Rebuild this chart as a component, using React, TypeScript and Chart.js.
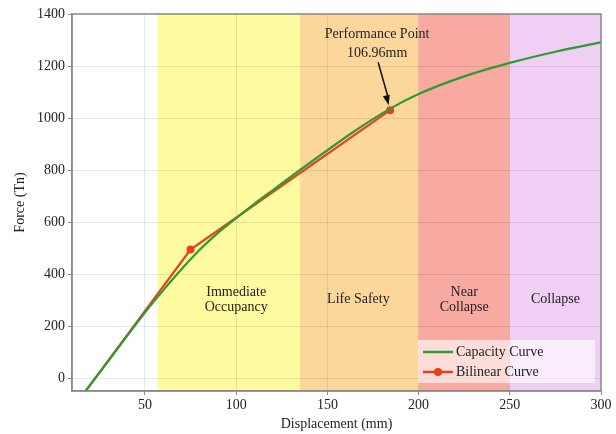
import React, { useEffect, useRef } from "react";
import { Chart, registerables } from "chart.js";

Chart.register(...registerables);

const xTicks = [50, 100, 150, 200, 250, 300];
const yTicks = [0, 200, 400, 600, 800, 1000, 1200, 1400];

const capacityX = [17.5, 30, 40, 50, 60, 70, 80, 90, 100, 110, 120, 135, 150, 165, 184, 200, 225, 250, 275, 300];
const capacityY = [-50, 66, 160, 252, 337, 418, 493, 558, 615, 670, 722, 800, 876, 950, 1034, 1092, 1160, 1212, 1255, 1291];

const bilinearX = [17.5, 75, 184.4];
const bilinearY = [-50, 494, 1030];

const zoneStart = [57, 135, 200, 250];
const zoneEnd = [135, 200, 250, 300];
const zoneNames = [["Immediate", "Occupancy"], ["Life Safety"], ["Near", "Collapse"], ["Collapse"]];
const zoneLabelX = [100, 167, 225, 275];
const zoneLabelY = 302;
const zoneColors = ["#fdfa9f", "#fbd79c", "#f8aaa2", "#f0cff5"];

const perfLabel = ["Performance Point", "106.96mm"];
const seriesNames = ["Capacity Curve", "Bilinear Curve"];

const GREEN = "#2f9a34";
const RED = "#e8401f";
const FONT = "'Liberation Serif', 'Times New Roman', serif";
const TEXT = "#222222";

export default function App() {
  const ref = useRef<HTMLCanvasElement | null>(null);

  useEffect(() => {
    if (!ref.current) return;

    const overlay = {
      id: "overlay",
      beforeDraw(chart: any) {
        const { ctx, chartArea, scales } = chart;
        const xs = scales.x;
        ctx.save();
        for (let i = 0; i < zoneStart.length; i++) {
          const x0 = xs.getPixelForValue(zoneStart[i]);
          const x1 = xs.getPixelForValue(zoneEnd[i]);
          ctx.fillStyle = zoneColors[i];
          ctx.fillRect(x0, chartArea.top, x1 - x0, chartArea.bottom - chartArea.top);
        }
        ctx.restore();
      },
      beforeDatasetsDraw(chart: any) {
        const { ctx, scales } = chart;
        ctx.save();
        ctx.font = `14px ${FONT}`;
        ctx.fillStyle = TEXT;
        ctx.textAlign = "center";
        ctx.textBaseline = "middle";
        const lh = 15;
        for (let i = 0; i < zoneNames.length; i++) {
          const cx = scales.x.getPixelForValue(zoneLabelX[i]);
          const cy = scales.y.getPixelForValue(zoneLabelY);
          const lines = zoneNames[i];
          lines.forEach((t, k) => {
            ctx.fillText(t, cx, cy + (k - (lines.length - 1) / 2) * lh);
          });
        }
        ctx.restore();
      },
      afterDraw(chart: any) {
        const { ctx, chartArea, scales } = chart;
        ctx.save();
        // frame
        ctx.strokeStyle = "#8a8a8a";
        ctx.lineWidth = 1.5;
        ctx.strokeRect(chartArea.left, chartArea.top, chartArea.right - chartArea.left, chartArea.bottom - chartArea.top);

        // performance annotation
        const px = scales.x.getPixelForValue(bilinearX[2]);
        const py = scales.y.getPixelForValue(bilinearY[2]);
        ctx.font = `14px ${FONT}`;
        ctx.fillStyle = TEXT;
        ctx.textAlign = "center";
        ctx.textBaseline = "middle";
        ctx.fillText(perfLabel[0], px - 13, py - 76);
        ctx.fillText(perfLabel[1], px - 13, py - 57);
        const ax0 = px - 12, ay0 = py - 48;
        const ax1 = px - 1.5, ay1 = py - 5;
        ctx.strokeStyle = "#111";
        ctx.lineWidth = 1.5;
        ctx.beginPath();
        ctx.moveTo(ax0, ay0);
        ctx.lineTo(ax1, ay1 - 6);
        ctx.stroke();
        const ang = Math.atan2(ay1 - ay0, ax1 - ax0);
        ctx.fillStyle = "#111";
        ctx.beginPath();
        ctx.moveTo(ax1, ay1);
        ctx.lineTo(ax1 - 10 * Math.cos(ang) + 3.5 * Math.sin(ang), ay1 - 10 * Math.sin(ang) - 3.5 * Math.cos(ang));
        ctx.lineTo(ax1 - 10 * Math.cos(ang) - 3.5 * Math.sin(ang), ay1 - 10 * Math.sin(ang) + 3.5 * Math.cos(ang));
        ctx.closePath();
        ctx.fill();

        // legend
        const lx = chartArea.right - 183, ly = chartArea.bottom - 51;
        ctx.fillStyle = "rgba(255,255,255,0.6)";
        ctx.fillRect(lx, ly, 177, 43);
        const rows = [
          { color: GREEN, dot: false },
          { color: RED, dot: true },
        ];
        rows.forEach((r, i) => {
          const yy = ly + 12 + i * 20;
          ctx.strokeStyle = r.color;
          ctx.lineWidth = 2.5;
          ctx.beginPath();
          ctx.moveTo(lx + 5, yy);
          ctx.lineTo(lx + 35, yy);
          ctx.stroke();
          if (r.dot) {
            ctx.fillStyle = r.color;
            ctx.beginPath();
            ctx.arc(lx + 20, yy, 4, 0, Math.PI * 2);
            ctx.fill();
          }
          ctx.fillStyle = TEXT;
          ctx.textAlign = "left";
          ctx.textBaseline = "middle";
          ctx.font = `14px ${FONT}`;
          ctx.fillText(seriesNames[i], lx + 38, yy);
        });
        ctx.restore();
      },
    };

    const chart = new Chart(ref.current, {
      type: "line",
      data: {
        datasets: [
          {
            label: seriesNames[0],
            data: capacityX.map((x, i) => ({ x, y: capacityY[i] })),
            borderColor: GREEN,
            backgroundColor: GREEN,
            borderWidth: 2.2,
            pointRadius: 0,
            cubicInterpolationMode: "monotone",
            fill: false,
          },
          {
            label: seriesNames[1],
            data: bilinearX.map((x, i) => ({ x, y: bilinearY[i] })),
            borderColor: RED,
            backgroundColor: RED,
            borderWidth: 2.2,
            pointRadius: [0, 4, 4],
            pointBorderWidth: 0,
            tension: 0,
            fill: false,
          },
        ],
      },
      options: {
        animation: false,
        responsive: false,
        maintainAspectRatio: false,
        layout: { padding: { top: 14, right: 15, left: 0, bottom: 0 } },
        plugins: { legend: { display: false }, tooltip: { enabled: false } },
        scales: {
          x: {
            type: "linear",
            min: 10,
            max: 300,
            afterBuildTicks: (s: any) => {
              s.ticks = xTicks.map((v) => ({ value: v }));
            },
            afterFit: (s: any) => {
              s.height = 43;
            },
            grid: { color: "rgba(0,0,0,0.09)", tickLength: 4, tickColor: "#8a8a8a" },
            border: { color: "#8a8a8a", width: 1.5 },
            ticks: {
              color: TEXT,
              font: { family: FONT, size: 14 },
              padding: 2,
              maxRotation: 0,
              callback: (v: any) => String(v),
            },
            title: {
              display: true,
              text: "Displacement (mm)",
              color: TEXT,
              font: { family: FONT, size: 14 },
              padding: { top: 0, bottom: 1 },
            },
          },
          y: {
            type: "linear",
            min: -50,
            max: 1400,
            afterBuildTicks: (s: any) => {
              s.ticks = yTicks.map((v) => ({ value: v }));
            },
            afterFit: (s: any) => {
              s.width = 72;
            },
            grid: { color: "rgba(0,0,0,0.09)", tickLength: 4, tickColor: "#8a8a8a" },
            border: { color: "#8a8a8a", width: 1.5 },
            ticks: {
              color: TEXT,
              font: { family: FONT, size: 14 },
              padding: 3,
              callback: (v: any) => String(v),
            },
            title: {
              display: true,
              text: "Force (Tn)",
              color: TEXT,
              font: { family: FONT, size: 14 },
              padding: { top: 12, bottom: 0 },
            },
          },
        },
      },
      plugins: [overlay],
    } as any);

    return () => chart.destroy();
  }, []);

  return (
    <div style={{ position: "absolute", left: 0, top: 0, width: 616, height: 434 }}>
      <canvas ref={ref} width={616} height={434} style={{ width: 616, height: 434 }} />
    </div>
  );
}
